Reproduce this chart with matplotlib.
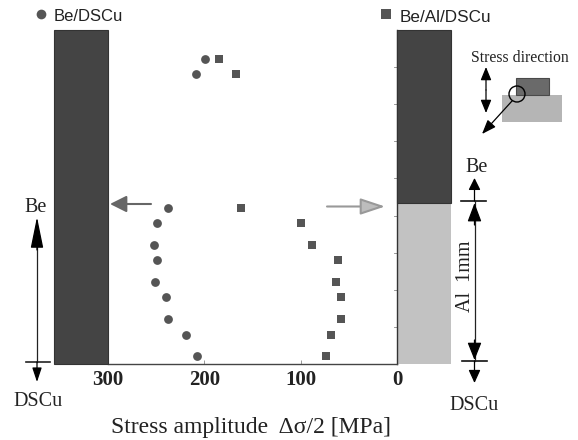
import matplotlib
matplotlib.use("Agg")
import matplotlib.pyplot as plt
from matplotlib.patches import Rectangle, Circle

W, H = 578, 440
circle_stress = [199, 209, 237.5, 249, 252, 249.5, 251, 240, 238, 219, 208]
circle_depth = [8.21, 7.81, 4.21, 3.79, 3.21, 2.80, 2.22, 1.80, 1.21, 0.79, 0.21]
square_stress = [185, 167.5, 162, 100, 88, 61, 63, 58, 58, 68.5, 74]
square_depth = [8.21, 7.81, 4.21, 3.79, 3.21, 2.80, 2.22, 1.80, 1.21, 0.79, 0.21]
x_ticks = [300, 200, 100, 0]
x_labels = ["300", "200", "100", "0"]
y_ticks = list(range(0, 10))
interface_depth = 4.33
left_bar = (300, 356)
right_bar = (0, -56)
DARK, LIGHT, MARK, INK = "#444444", "#c2c2c2", "#555555", "#222222"
SERIF = "Liberation Serif"
SANS = "Liberation Sans"

fig = plt.figure(figsize=(W / 100, H / 100), dpi=100)
ax = fig.add_axes([108 / W, 1 - 364 / H, 289 / W, 334 / H])
ax.set_xlim(300, 0)
ax.set_ylim(0, 9)
for s in ("top", "left"):
    ax.spines[s].set_visible(False)
ax.spines["right"].set_linewidth(1.0)
ax.spines["right"].set_color("#333333")
ax.spines["bottom"].set_linewidth(1.0)
ax.spines["bottom"].set_color("#444444")
ax.yaxis.tick_right()
ax.set_yticks(y_ticks)
ax.set_yticklabels([])
ax.tick_params(axis="y", direction="out", length=0)
for t in y_ticks[1:-1]:
    ax.plot([0, 3], [t, t], color="#888888", lw=0.6, clip_on=False)
ax.set_xticks(x_ticks)
ax.set_xticklabels(x_labels, fontfamily=SERIF, fontweight="bold", fontsize=15, color=INK)
ax.tick_params(axis="x", direction="in", length=3, width=0.6, color="#888888", pad=4)

ax.add_patch(Rectangle((left_bar[0], 0), left_bar[1] - left_bar[0], 9, fc=DARK, ec="#333333", lw=0.8, clip_on=False, zorder=3))
ax.add_patch(Rectangle((right_bar[0], interface_depth), right_bar[1] - right_bar[0], 9 - interface_depth, fc=DARK, ec="#333333", lw=0.8, clip_on=False, zorder=3))
ax.add_patch(Rectangle((right_bar[0], 0), right_bar[1] - right_bar[0], interface_depth, fc=LIGHT, ec="none", clip_on=False, zorder=2))

ax.scatter(circle_stress, circle_depth, s=40, marker="o", color=MARK, linewidths=0, zorder=4)
ax.scatter(square_stress, square_depth, s=38, marker="s", color=MARK, linewidths=0, zorder=4)

ov = fig.add_axes([0, 0, 1, 1], facecolor="none")
ov.set_xlim(0, W)
ov.set_ylim(H, 0)
ov.axis("off")


def arrow(a, b, hl=12, hw=9, color="black", lw=0.9, fc=None):
    """Annotation arrow; head length and width are in pixels."""
    style = f"-|>,head_length={hl * 0.72},head_width={hw * 0.36}"
    ov.annotate("", xy=b, xytext=a, arrowprops=dict(arrowstyle=style, color=color, lw=lw, mutation_scale=1,
                                                    shrinkA=0, shrinkB=0, fc=fc or color))


def label(x, y, s, **kw):
    kw.setdefault("fontfamily", SERIF)
    kw.setdefault("fontsize", 14.5)
    kw.setdefault("color", INK)
    ov.text(x, y, s, ha="center", va="center", **kw)


label(251, 427, "Stress amplitude  \u0394\u03c3/2 [MPa]", fontsize=17)

# legend
ov.plot([41], [14.5], "o", ms=7, color=MARK, mew=0)
label(88.5, 16.5, "Be/DSCu", fontfamily=SANS, fontsize=12)
ov.plot([386], [14.5], "s", ms=7, color=MARK, mew=0)
label(445.5, 17, "Be/Al/DSCu", fontfamily=SANS, fontsize=12.3)

# depth labels, left
label(36, 208, "Be", fontsize=14.5)
ov.plot([37, 37], [240, 362], color="#222222", lw=0.9)
arrow((37, 250), (37, 217), hl=27, hw=11)
ov.plot([26, 50], [362, 362], color="#222222", lw=1.2)
arrow((37, 362), (37, 382), hl=12, hw=8)
label(38, 401, "DSCu")

# depth labels, right
label(477, 167, "Be", fontsize=14.5)
ov.plot([461, 486], [201, 201], color="#111111", lw=1.2)
ov.plot([462, 487], [361, 361], color="#111111", lw=1.2)
ov.plot([474.5, 474.5], [201, 361], color="#222222", lw=0.9)
arrow((474.5, 201), (474.5, 178), hl=10, hw=10)
arrow((474.5, 225), (474.5, 203), hl=16, hw=12)
arrow((474.5, 340), (474.5, 360), hl=15, hw=12)
arrow((474.5, 361), (474.5, 383), hl=11, hw=10)
label(474.5, 405, "DSCu")
label(465, 276, "Al  1mm", rotation=90, fontsize=14.5)

# direction arrows
arrow((151, 204), (110, 204), hl=14, hw=14, color="#666666", lw=1.5)
arrow((327, 206.5), (385, 206.5), hl=21, hw=14, color="#999999", lw=1.5, fc="#bdbdbd")

# inset
label(519.5, 58, "Stress direction", fontsize=11.3)
ov.add_patch(Rectangle((502, 95), 60, 27, fc="#b5b5b5", ec="none"))
ov.add_patch(Rectangle((516, 78.5), 33, 17, fc="#6a6a6a", ec="#4a4a4a", lw=0.8))
ov.add_patch(Circle((517, 94), 8, fc="none", ec="black", lw=1.0))
arrow((486, 90), (486, 67), hl=11, hw=9)
arrow((486, 90), (486, 113), hl=11, hw=9)
arrow((512, 101), (482, 134), hl=12, hw=9)

fig.savefig("out.png", dpi=100)
